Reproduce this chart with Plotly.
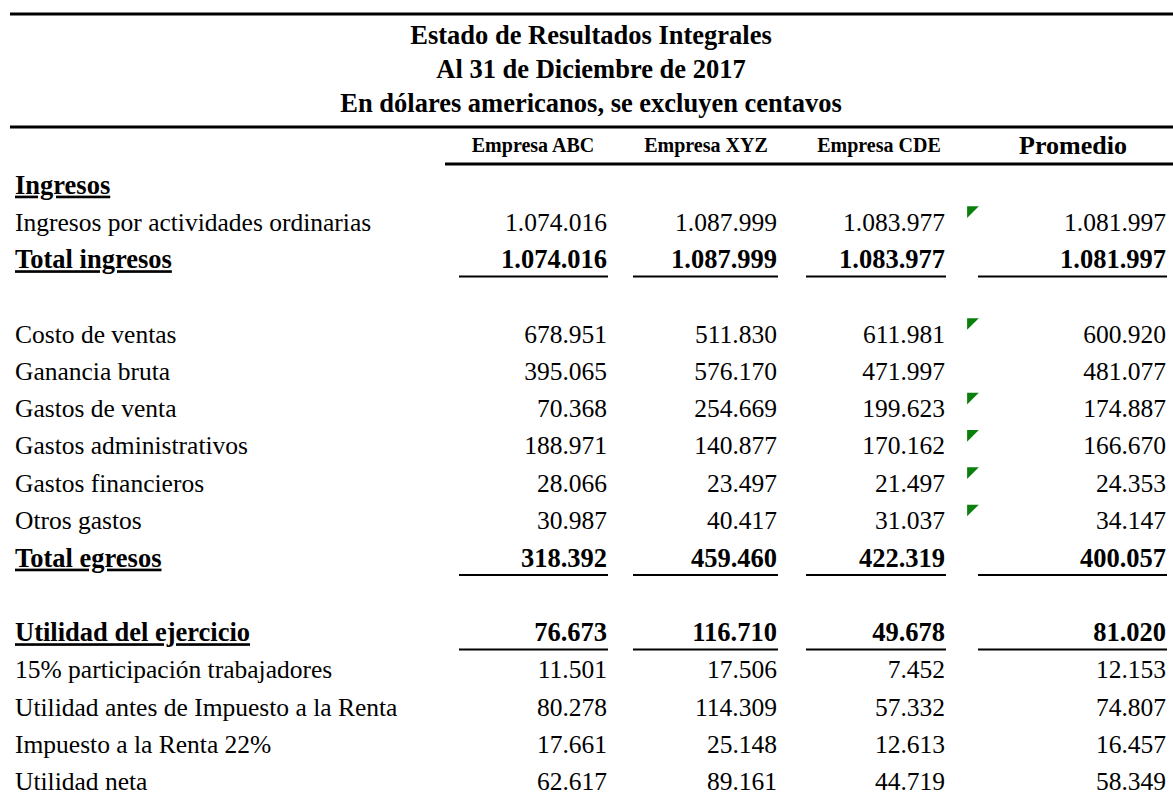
import plotly.graph_objects as go

# ---------------- data ----------------
titles = [
    "Estado de Resultados Integrales",
    "Al 31 de Diciembre de 2017",
    "En dólares americanos, se excluyen centavos",
]
columns = ["Empresa ABC", "Empresa XYZ", "Empresa CDE", "Promedio"]
row_labels = [
    "Ingresos",
    "Ingresos por actividades ordinarias",
    "Total ingresos",
    "",
    "Costo de ventas",
    "Ganancia bruta",
    "Gastos de venta",
    "Gastos administrativos",
    "Gastos financieros",
    "Otros gastos",
    "Total egresos",
    "",
    "Utilidad del ejercicio",
    "15% participación trabajadores",
    "Utilidad antes de Impuesto a la Renta",
    "Impuesto a la Renta 22%",
    "Utilidad neta",
]
empresa_abc = [None, 1074016, 1074016, None, 678951, 395065, 70368, 188971, 28066, 30987, 318392,
               None, 76673, 11501, 80278, 17661, 62617]
empresa_xyz = [None, 1087999, 1087999, None, 511830, 576170, 254669, 140877, 23497, 40417, 459460,
               None, 116710, 17506, 114309, 25148, 89161]
empresa_cde = [None, 1083977, 1083977, None, 611981, 471997, 199623, 170162, 21497, 31037, 422319,
               None, 49678, 7452, 57332, 12613, 44719]
promedio = [None, 1081997, 1081997, None, 600920, 481077, 174887, 166670, 24353, 34147, 400057,
            None, 81020, 12153, 74807, 16457, 58349]
bold_rows = ["Ingresos", "Total ingresos", "Total egresos", "Utilidad del ejercicio"]
flagged_rows = ["Ingresos por actividades ordinarias", "Costo de ventas", "Gastos de venta",
                "Gastos administrativos", "Gastos financieros", "Otros gastos"]

# ---------------- layout constants (pixel-like) ----------------
W, H = 1173, 801
ROW0, ROWH = 187.0, 37.3


def r(px):
    return (px - ROW0) / ROWH


LABEL_X = 15
COL_RIGHT = [607, 777, 945, 1166]
COL_LEFT = [459, 633, 806, 978]
HEADER_CX = [533, 706, 879, 1073]
HEADER_SIZE = [20, 20, 20, 26]
TITLE_CX = 591
TITLE_PX = [37, 71, 105]
HEADER_PX = 147
FLAG_X = 971
SERIF = "Liberation Serif"
REG_SIZE = 25.5
BOLD_SIZE = 26.5


def fmt(v):
    return f"{v:,}".replace(",", ".")


fig = go.Figure()
rows = list(range(len(row_labels)))
is_bold = [lab in bold_rows for lab in row_labels]

# titles
fig.add_trace(go.Scatter(
    x=[TITLE_CX] * len(titles), y=[r(p) for p in TITLE_PX],
    text=[f"<b>{t}</b>" for t in titles], mode="text", textposition="middle center",
    textfont=dict(family=SERIF, size=26.5, color="black"), cliponaxis=False))

# column headers
fig.add_trace(go.Scatter(
    x=HEADER_CX, y=[r(HEADER_PX)] * len(columns),
    text=[f"<b>{c}</b>" for c in columns], mode="text", textposition="middle center",
    textfont=dict(family=SERIF, size=HEADER_SIZE, color="black"), cliponaxis=False))

# row labels
reg_idx = [i for i in rows if row_labels[i] and not is_bold[i]]
bold_idx = [i for i in rows if row_labels[i] and is_bold[i]]
fig.add_trace(go.Scatter(
    x=[LABEL_X] * len(reg_idx), y=reg_idx, text=[row_labels[i] for i in reg_idx],
    mode="text", textposition="middle right",
    textfont=dict(family=SERIF, size=REG_SIZE, color="black"), cliponaxis=False))
fig.add_trace(go.Scatter(
    x=[LABEL_X] * len(bold_idx), y=bold_idx,
    text=[f"<b><u>{row_labels[i]}</u></b>" for i in bold_idx],
    mode="text", textposition="middle right",
    textfont=dict(family=SERIF, size=BOLD_SIZE, color="black"), cliponaxis=False))

# values
series = [empresa_abc, empresa_xyz, empresa_cde, promedio]
UL = 0.40
for c, vals in enumerate(series):
    reg = [i for i in rows if vals[i] is not None and not is_bold[i]]
    bld = [i for i in rows if vals[i] is not None and is_bold[i]]
    fig.add_trace(go.Scatter(
        x=[COL_RIGHT[c]] * len(reg), y=reg, text=[fmt(vals[i]) for i in reg],
        mode="text", textposition="middle left",
        textfont=dict(family=SERIF, size=REG_SIZE, color="black"), cliponaxis=False))
    fig.add_trace(go.Scatter(
        x=[COL_RIGHT[c]] * len(bld), y=bld, text=[f"<b>{fmt(vals[i])}</b>" for i in bld],
        mode="text", textposition="middle left",
        textfont=dict(family=SERIF, size=BOLD_SIZE, color="black"), cliponaxis=False))
    for i in bld:
        fig.add_shape(type="line", x0=COL_LEFT[c], x1=COL_RIGHT[c] + 1, y0=i + UL, y1=i + UL,
                      line=dict(color="black", width=2))

# green indicator triangles
flag_idx = [i for i in rows if row_labels[i] in flagged_rows]
fig.add_trace(go.Scatter(
    x=[FLAG_X] * len(flag_idx), y=[i - 0.38 for i in flag_idx], mode="markers",
    marker=dict(symbol="triangle-nw", size=13, color="#0B7F0B", line=dict(width=0)),
    cliponaxis=False))

# rule lines
for px, x0 in [(14, 10), (127, 10), (164, 445)]:
    fig.add_shape(type="line", x0=x0, x1=W, y0=r(px), y1=r(px),
                  line=dict(color="black", width=3))

fig.update_layout(
    width=W, height=H, autosize=False,
    margin=dict(l=0, r=0, t=0, b=0),
    paper_bgcolor="white", plot_bgcolor="white",
    showlegend=False, hovermode=False,
    xaxis=dict(visible=False, range=[0, W], fixedrange=True),
    yaxis=dict(visible=False, range=[r(H), r(0)], fixedrange=True),
)

fig.write_html("out.html", config={"displayModeBar": False},
               post_script="document.body.style.margin='0';")
